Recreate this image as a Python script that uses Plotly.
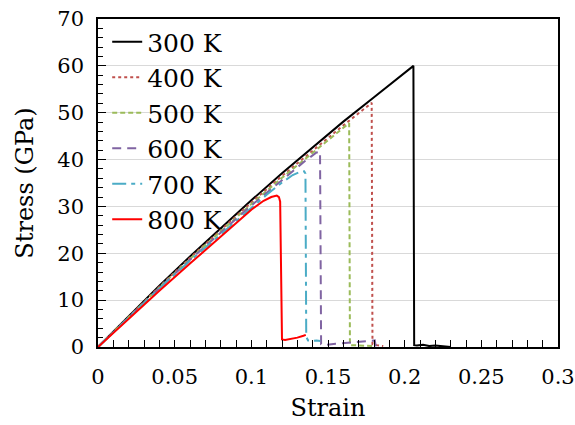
import plotly.graph_objects as go

# ---- data ----
labels = ["300 K", "400 K", "500 K", "600 K", "700 K", "800 K"]

strain_300 = [0, 0.02, 0.04, 0.06, 0.08, 0.10, 0.12, 0.14, 0.16, 0.18, 0.2057,
              0.2062, 0.208, 0.212, 0.216, 0.220, 0.225, 0.230]
stress_300 = [0, 6.6, 13.1, 19.3, 25.4, 31.3, 37.1, 42.7, 48.1, 53.3, 60.0,
              0.4, 0.3, 0.5, 0.2, 0.3, 0.1, 0.0]

strain_400 = [0, 0.02, 0.04, 0.06, 0.08, 0.10, 0.12, 0.14, 0.16, 0.1785,
              0.1790, 0.182, 0.186]
stress_400 = [0, 6.5, 12.85, 19.0, 25.0, 30.85, 36.5, 42.0, 47.3, 52.1,
              0.6, 0.4, 0.2]

strain_500 = [0, 0.02, 0.04, 0.06, 0.08, 0.10, 0.12, 0.14, 0.1638,
              0.1643, 0.170, 0.175, 0.180]
stress_500 = [0, 6.45, 12.7, 18.8, 24.75, 30.5, 36.1, 41.5, 47.8,
              0.4, 0.3, 0.2, 0.2]

strain_600 = [0, 0.02, 0.04, 0.06, 0.08, 0.10, 0.12, 0.135, 0.1425, 0.1448,
              0.1455, 0.148, 0.155, 0.165, 0.175, 0.1805, 0.1812]
stress_600 = [0, 6.4, 12.6, 18.6, 24.5, 30.2, 35.6, 39.7, 41.5, 41.7,
              0.6, 0.4, 0.7, 1.0, 1.2, 1.4, 0.1]

strain_700 = [0, 0.02, 0.04, 0.06, 0.08, 0.10, 0.11, 0.12, 0.127, 0.132, 0.1345, 0.1353,
              0.1358, 0.137, 0.140, 0.1425, 0.145]
stress_700 = [0, 6.35, 12.5, 18.4, 24.1, 29.6, 32.5, 35.1, 36.7, 37.4, 37.5, 37.0,
              2.2, 1.4, 1.3, 1.4, 1.3]

strain_800 = [0, 0.02, 0.04, 0.06, 0.08, 0.10, 0.108, 0.113, 0.1166, 0.118, 0.1188,
              0.1195, 0.1200, 0.122, 0.126, 0.130, 0.134, 0.1355]
stress_800 = [0, 6.1, 12.0, 17.8, 23.6, 29.3, 31.2, 32.0, 32.3, 32.0, 31.0,
              3.0, 1.6, 1.5, 1.7, 2.0, 2.4, 2.6]

x_tickvals = [0, 0.05, 0.1, 0.15, 0.2, 0.25, 0.3]
x_ticktext = ["0", "0.05", "0.1", "0.15", "0.2", "0.25", "0.3"]
y_tickvals = [0, 10, 20, 30, 40, 50, 60, 70]

series = [
    (strain_300, stress_300, "#000000", "solid"),
    (strain_400, stress_400, "#c0504d", "dot"),
    (strain_500, stress_500, "#9bbb59", "5px,3px"),
    (strain_600, stress_600, "#8064a2", "9px,6px"),
    (strain_700, stress_700, "#4bacc6", "14px,5px,4px,5px"),
    (strain_800, stress_800, "#ff0000", "solid"),
]

FONT = "DejaVu Serif"

fig = go.Figure()
for (xs, ys, col, dash), name in zip(series, labels):
    fig.add_trace(go.Scatter(
        x=xs, y=ys, mode="lines", name=name,
        line=dict(color=col, width=2, dash=dash),
    ))

fig.update_layout(
    width=575, height=425,
    margin=dict(l=98, r=17, t=19, b=78, autoexpand=False),
    paper_bgcolor="white", plot_bgcolor="white",
    font=dict(family=FONT, color="black", size=21),
    showlegend=True,
    legend=dict(
        x=0.02, y=1.0, xanchor="left", yanchor="top",
        bgcolor="rgba(0,0,0,0)", borderwidth=0,
        font=dict(family=FONT, size=25, color="black"),
        itemwidth=30, tracegroupgap=0,
    ),
)

fig.update_xaxes(
    range=[0, 0.3], tickvals=x_tickvals, ticktext=x_ticktext,
    ticks="inside", ticklen=7, tickwidth=1.2, tickcolor="black",
    minor=dict(dtick=0.01, ticks="inside", ticklen=7, tickwidth=1.2, tickcolor="black"),
    showgrid=False, zeroline=False, automargin=False,
    showline=True, mirror=True, linecolor="black", linewidth=1.5,
    tickfont=dict(family=FONT, size=21, color="black"),
    ticklabelstandoff=10,
    title=dict(text="Strain", font=dict(family=FONT, size=24, color="black"), standoff=11),
)
fig.update_yaxes(
    range=[0, 70], tickvals=y_tickvals,
    ticks="inside", ticklen=8, tickwidth=1.2, tickcolor="black",
    minor=dict(dtick=2, ticks="inside", ticklen=5, tickwidth=1.2, tickcolor="black"),
    showgrid=True, gridcolor="#d9d9d9", gridwidth=1,
    zeroline=False, automargin=False,
    showline=True, mirror=True, linecolor="black", linewidth=1.5,
    tickfont=dict(family=FONT, size=21, color="black"),
    ticklabelstandoff=8,
    title=dict(text="Stress (GPa)", font=dict(family=FONT, size=24, color="black"), standoff=17),
)

fig.write_html("out.html")
